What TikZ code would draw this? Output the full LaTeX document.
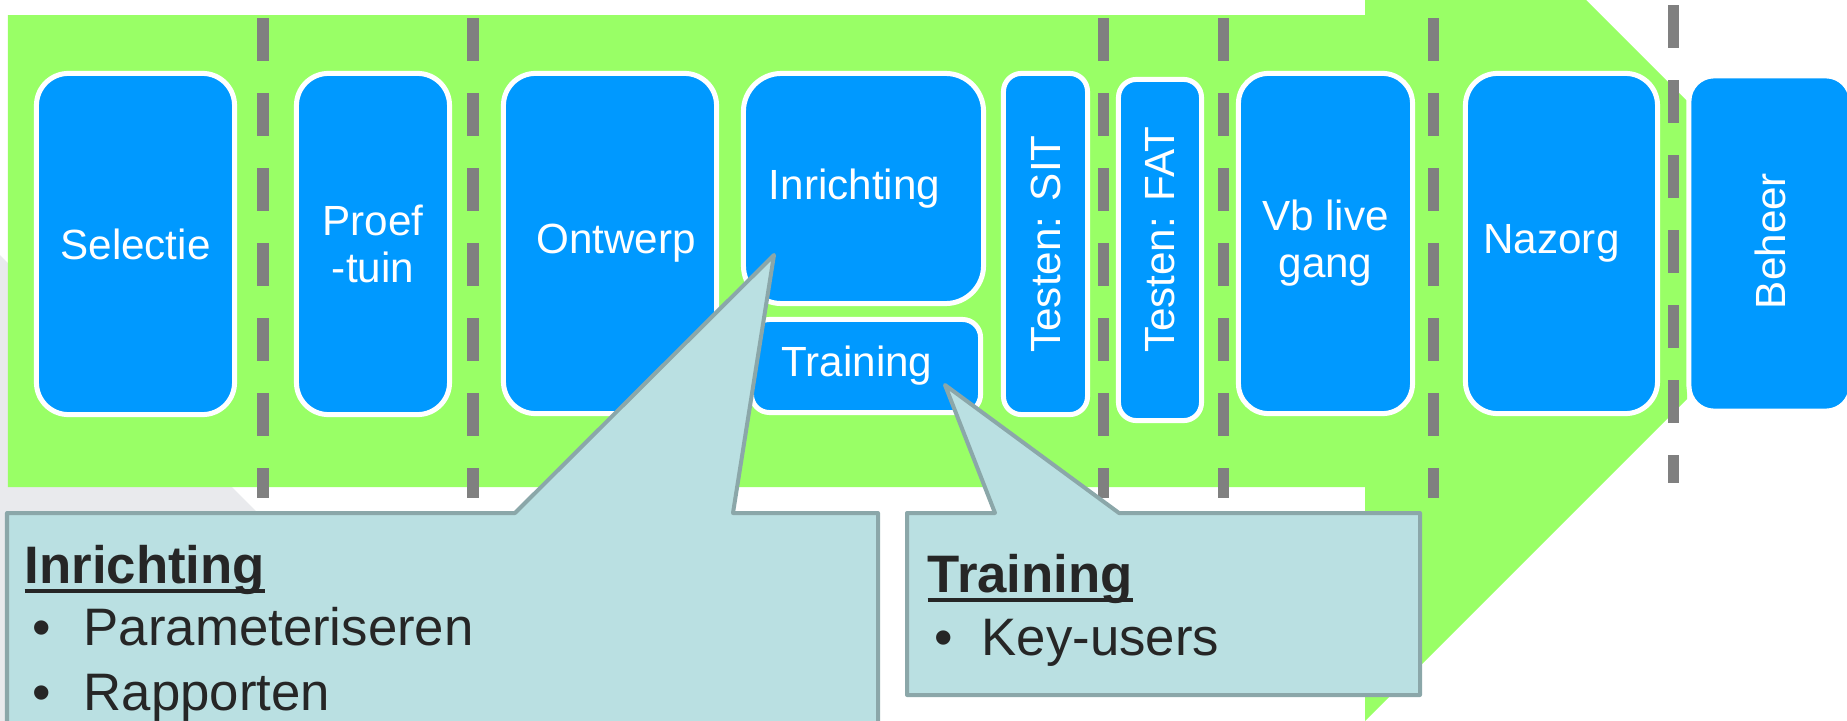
\documentclass[tikz,border=0pt]{standalone}
\usepackage{fontspec}
\setmainfont{Liberation Sans}
\usetikzlibrary{positioning}

\definecolor{arrowgreen}{HTML}{99FF66}
\definecolor{phaseblue}{HTML}{0099FF}
\definecolor{dashgray}{HTML}{808080}
\definecolor{bubblefill}{HTML}{BAE0E2}
\definecolor{bubbleline}{HTML}{8BA7A9}
\definecolor{shadegray}{HTML}{E9EAED}
\definecolor{textdark}{HTML}{262626}
\newcommand{\ulhead}[1]{\setbox0\hbox{\bfseries #1}\rlap{\rule[-2.8pt]{\wd0}{1.1pt}}\box0}

\begin{document}
\begin{tikzpicture}[x=0.01cm, y=-0.01cm,
    phase/.style={draw=white, line width=0.05cm, fill=phaseblue, text=white,
        rounded corners=0.32cm, inner sep=0pt, align=center,
        font=\fontsize{12}{13.4}\selectfont},
    divider/.style={draw=dashgray, line width=0.11cm, dash pattern=on 0.43cm off 0.32cm},
    bubble/.style={draw=bubbleline, fill=bubblefill, line width=0.04cm, line join=round},
    bubbletext/.style={anchor=base west, inner sep=0pt, text=textdark,
        font=\fontsize{15}{18}\selectfont}]
    \useasboundingbox (0,0) rectangle (1847,721);
    \clip (0,0) rectangle (1847,721);

    % background shade + process arrow
    \fill[shadegray] (0,255) -- (470,725) -- (0,725) -- cycle;
    \fill[arrowgreen] (8,15) -- (1365,15) -- (1365,-20) -- (1566,-20) -- (1687,101)
        -- (1687,399) -- (1365,721) -- (1365,487) -- (8,487) -- cycle;

    % phase borders
    \foreach \dx in {263,473,1103,1223,1433}
        \draw[divider] (\dx,18) -- (\dx,498);
    \draw[divider] (1673,5) -- (1673,483);

    % phases
    \node[phase, minimum width=1.98cm, minimum height=3.41cm] (selectie) at (135.5,244) {Selectie};
    \node[phase, minimum width=1.53cm, minimum height=3.41cm] (proeftuin) at (373,244) {Proef\\-tuin};
    \node[phase, minimum width=2.13cm, minimum height=3.40cm] (ontwerp) at (610,243.5) {\hspace*{0.12cm}Ontwerp};
    \node[phase, minimum width=2.40cm, minimum height=2.30cm, rounded corners=0.38cm] (inrichting) at (863.5,188.5) {Inrichting\hspace*{0.18cm}};
    \node[phase, minimum width=2.29cm, minimum height=0.93cm, rounded corners=0.18cm] (training) at (866,366) {Training\hspace*{0.18cm}};
    \node[phase, rotate=90, minimum width=3.41cm, minimum height=0.84cm, rounded corners=0.18cm] (sit) at (1045.5,244) {Testen: SIT};
    \node[phase, rotate=90, minimum width=3.41cm, minimum height=0.83cm, rounded corners=0.18cm] (fat) at (1160,250) {\hspace*{0.2cm}Testen: FAT};
    \node[phase, minimum width=1.74cm, minimum height=3.40cm, rounded corners=0.30cm] (vblive) at (1325.5,243.5) {Vb live\\gang};
    \node[phase, minimum width=1.92cm, minimum height=3.40cm] (nazorg) at (1561.5,243.5) {Nazorg\hspace*{0.2cm}};
    \node[phase, rotate=90, minimum width=3.35cm, minimum height=1.62cm, rounded corners=0.25cm] (beheer) at (1770,243.5) {\hspace*{0.05cm}Beheer};

    % callouts
    \draw[bubble] (7,513) -- (515,513) -- (774,255) -- (733,513) -- (878,513)
        -- (878,740) -- (7,740) -- cycle;
    \draw[bubble] (907,513) -- (995,513) -- (945,385) -- (1119,513) -- (1420,513)
        -- (1420,695) -- (907,695) -- cycle;

    \node[bubbletext] (inrhead) at (24,583) {\ulhead{Inrichting}};
    \node[bubbletext] (inrpar) at (32,645) {\makebox[0.51cm][l]{\textbullet}Parameteriseren};
    \node[bubbletext] (inrrap) at (32,710) {\makebox[0.51cm][l]{\textbullet}Rapporten};
    \node[bubbletext] (trnhead) at (927,592) {\ulhead{Training}};
    \node[bubbletext] (trnkey) at (934,655) {\makebox[0.47cm][l]{\textbullet}Key-users};
\end{tikzpicture}
\end{document}
